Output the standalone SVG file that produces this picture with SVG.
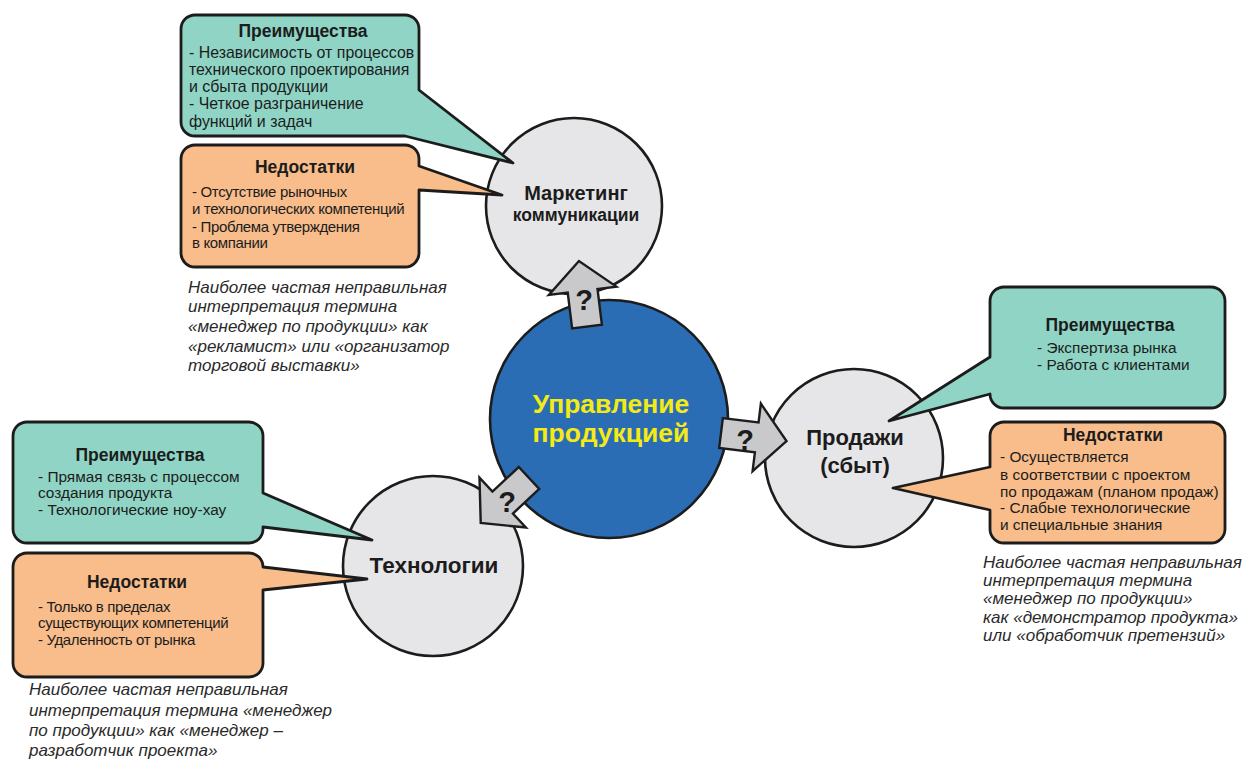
<svg xmlns="http://www.w3.org/2000/svg" width="1242" height="760" viewBox="0 0 1242 760">
<defs>
<style>
text{font-family:"Liberation Sans",Arial,sans-serif;fill:#1c1c1c}
.circ{fill:#e6e6e8;stroke:#1c1c1c;stroke-width:2.6}
.core{fill:#2b6db4;stroke:#1c1c1c;stroke-width:2.6}
.pro{fill:#8fd4c4;stroke:#1c1c1c;stroke-width:2.8;stroke-linejoin:round}
.con{fill:#f8bd8b;stroke:#1c1c1c;stroke-width:2.8;stroke-linejoin:round}
.ttl{font-weight:bold;font-size:17.5px;text-anchor:middle}
.ln{font-size:15.4px}
.big{font-size:15.9px}
.nar{font-size:15px;letter-spacing:-0.35px}
.it{font-style:italic;font-size:17px;fill:#2a2a2a}
.cl{font-weight:bold;text-anchor:middle}
.arr{fill:#c9c9cb;stroke:#1c1c1c;stroke-width:2.4;stroke-linejoin:miter}
.q{font-weight:bold;font-size:29px;text-anchor:middle;fill:#1c1c1c}
</style>
<path id="blockArrow" d="M0,-15 L36,-15 L36,-34 L66,0 L36,34 L36,15 L0,15 Z"/>
</defs>
<rect width="1242" height="760" fill="#ffffff"/>

<!-- circles -->
<g id="node-marketing">
<circle class="circ" cx="574" cy="206" r="88"/>
<text class="cl" x="576" y="200" font-size="20">Маркетинг</text>
<text class="cl" x="576" y="221" font-size="17.5">коммуникации</text>
</g>
<g id="node-sales">
<circle class="circ" cx="854" cy="458" r="89"/>
<text class="cl" x="855" y="445" font-size="22">Продажи</text>
<text class="cl" x="855" y="473" font-size="22">(сбыт)</text>
</g>
<g id="node-tech">
<circle class="circ" cx="433" cy="566" r="90"/>
<text class="cl" x="434" y="573" font-size="22.5">Технологии</text>
</g>
<g id="node-center">
<circle class="core" cx="609" cy="419" r="119"/>
<text class="cl" x="611" y="413" font-size="26.5" style="fill:#f5ea14">Управление</text>
<text class="cl" x="611" y="442" font-size="26.5" style="fill:#f5ea14">продукцией</text>
</g>

<!-- connectors -->
<g id="connectors">
<g id="arrow-marketing">
<use href="#blockArrow" class="arr" transform="translate(587,326.5) rotate(-97)"/>
<text class="q" x="584" y="310">?</text>
</g>
<g id="arrow-sales">
<use href="#blockArrow" class="arr" transform="translate(721,433) rotate(7)"/>
<text class="q" x="745" y="450">?</text>
</g>
<g id="arrow-tech">
<use href="#blockArrow" class="arr" transform="translate(529,478) rotate(137)"/>
<text class="q" x="507" y="512">?</text>
</g>
</g>

<!-- marketing callouts -->
<g id="marketing-pros">
<path class="pro" d="M195,15 H405 A14,14 0 0 1 419,29 V90 L513,163 L405,136 H195 A14,14 0 0 1 181,122 V29 A14,14 0 0 1 195,15 Z"/>
<text class="ttl" x="303" y="37">Преимущества</text>
<text class="big" x="189" y="58">- Независимость от процессов</text>
<text class="big" x="189" y="75">технического проектирования</text>
<text class="big" x="189" y="92">и сбыта продукции</text>
<text class="big" x="189" y="109">- Четкое разграничение</text>
<text class="big" x="189" y="127">функций и задач</text>
</g>
<g id="marketing-cons">
<path class="con" d="M195,145 H405 A14,14 0 0 1 419,159 V166 L502,195 L419,190 V253 A14,14 0 0 1 405,267 H195 A14,14 0 0 1 181,253 V159 A14,14 0 0 1 195,145 Z"/>
<text class="ttl" x="305" y="173">Недостатки</text>
<text class="nar" x="192" y="197">- Отсутствие рыночных</text>
<text class="nar" x="192" y="214">и технологических компетенций</text>
<text class="nar" x="192" y="232">- Проблема утверждения</text>
<text class="nar" x="192" y="248">в компании</text>
</g>
<g id="marketing-note">
<text class="it" x="188" y="293">Наиболее частая неправильная</text>
<text class="it" x="188" y="312">интерпретация термина</text>
<text class="it" x="188" y="332">«менеджер по продукции» как</text>
<text class="it" x="188" y="352">«рекламист» или «организатор</text>
<text class="it" x="188" y="371">торговой выставки»</text>
</g>

<!-- sales callouts -->
<g id="sales-pros">
<path class="pro" d="M1004,287 H1211 A14,14 0 0 1 1225,301 V394 A14,14 0 0 1 1211,408 H1004 A14,14 0 0 1 990,394 L889,421 L990,357 V301 A14,14 0 0 1 1004,287 Z"/>
<text class="ttl" x="1110" y="331">Преимущества</text>
<text class="ln" x="1037" y="353">- Экспертиза рынка</text>
<text class="ln" x="1037" y="370">- Работа с клиентами</text>
</g>
<g id="sales-cons">
<path class="con" d="M1004,422 H1211 A14,14 0 0 1 1225,436 V529 A14,14 0 0 1 1211,543 H1004 A14,14 0 0 1 990,529 V510 L893,488 L990,467 V436 A14,14 0 0 1 1004,422 Z"/>
<text class="ttl" x="1113" y="441">Недостатки</text>
<text class="ln" x="1000" y="462">- Осуществляется</text>
<text class="ln" x="1000" y="480">в соответствии с проектом</text>
<text class="ln" x="1000" y="497">по продажам (планом продаж)</text>
<text class="ln" x="1000" y="513">- Слабые технологические</text>
<text class="ln" x="1000" y="530">и специальные знания</text>
</g>
<g id="sales-note">
<text class="it" x="983" y="568">Наиболее частая неправильная</text>
<text class="it" x="983" y="586">интерпретация термина</text>
<text class="it" x="983" y="604">«менеджер по продукции»</text>
<text class="it" x="983" y="623">как «демонстратор продукта»</text>
<text class="it" x="983" y="641">или «обработчик претензий»</text>
</g>

<!-- technology callouts -->
<g id="tech-pros">
<path class="pro" d="M27,422 H249 A14,14 0 0 1 263,436 V493 L372,540 L263,527 V529 A14,14 0 0 1 249,543 H27 A14,14 0 0 1 13,529 V436 A14,14 0 0 1 27,422 Z"/>
<text class="ttl" x="140" y="461">Преимущества</text>
<text class="ln" x="38" y="482">- Прямая связь с процессом</text>
<text class="ln" x="38" y="498">создания продукта</text>
<text class="ln" x="38" y="515">- Технологические ноу-хау</text>
</g>
<g id="tech-cons">
<path class="con" d="M27,553 H249 A14,14 0 0 1 263,567 L367,579 L263,590 V663 A14,14 0 0 1 249,677 H27 A14,14 0 0 1 13,663 V567 A14,14 0 0 1 27,553 Z"/>
<text class="ttl" x="137" y="588">Недостатки</text>
<text class="nar" x="38" y="612">- Только в пределах</text>
<text class="nar" x="38" y="628">существующих компетенций</text>
<text class="nar" x="38" y="645">- Удаленность от рынка</text>
</g>
<g id="tech-note">
<text class="it" x="29" y="695">Наиболее частая неправильная</text>
<text class="it" x="29" y="716">интерпретация термина «менеджер</text>
<text class="it" x="29" y="736">по продукции» как «менеджер –</text>
<text class="it" x="29" y="756">разработчик проекта»</text>
</g>
</svg>
